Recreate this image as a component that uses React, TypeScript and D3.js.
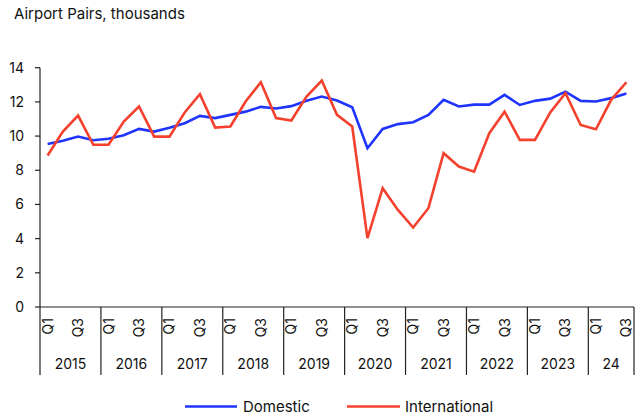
import React from "react";
import * as d3 from "d3";

const years = ["2015", "2016", "2017", "2018", "2019", "2020", "2021", "2022", "2023", "24"];
const quartersPerYear = [4, 4, 4, 4, 4, 4, 4, 4, 4, 3];
const yTicks = [0, 2, 4, 6, 8, 10, 12, 14];

const domestic = [
  9.54, 9.72, 9.97, 9.76, 9.84, 10.05, 10.42, 10.26, 10.48, 10.75, 11.18, 11.05,
  11.24, 11.43, 11.71, 11.61, 11.75, 12.06, 12.31, 12.08, 11.69, 9.29, 10.42, 10.7,
  10.81, 11.24, 12.12, 11.73, 11.84, 11.84, 12.41, 11.82, 12.06, 12.19, 12.6, 12.06,
  12.02, 12.22, 12.49,
];
const international = [
  8.86, 10.26, 11.2, 9.49, 9.49, 10.85, 11.73, 9.97, 9.97, 11.38, 12.45, 10.5,
  10.56, 12.02, 13.15, 11.05, 10.91, 12.31, 13.25, 11.24, 10.56, 4.03, 6.95, 5.68,
  4.65, 5.78, 9.0, 8.22, 7.92, 10.17, 11.43, 9.78, 9.78, 11.38, 12.51, 10.65,
  10.4, 12.12, 13.15,
];

const series = [
  { name: "Domestic", values: domestic, color: "#1f35ff" },
  { name: "International", values: international, color: "#f4412e" },
];

export default function App() {
  const W = 642, H = 419;
  const left = 40, right = 634, top = 67.7, bottom = 307;
  const font = "Inter, 'Liberation Sans', Arial, sans-serif";

  const quarters: { key: string; year: number; q: number }[] = [];
  years.forEach((y, yi) => {
    for (let q = 1; q <= quartersPerYear[yi]; q++) quarters.push({ key: `${y}Q${q}`, year: yi, q });
  });

  const x = d3.scaleBand<string>().domain(quarters.map((d) => d.key)).range([left, right]).paddingInner(0).paddingOuter(0);
  const y = d3.scaleLinear().domain([0, 14]).range([bottom, top]);
  const cx = (k: string) => (x(k) as number) + x.bandwidth() / 2;

  const line = d3.line<number>().x((_, i) => cx(quarters[i].key)).y((v) => y(v));

  const boundaries: number[] = [left];
  let idx = 0;
  quartersPerYear.forEach((n) => {
    idx += n;
    const k = quarters[idx - 1].key;
    boundaries.push((x(k) as number) + x.bandwidth());
  });

  const axisColor = "#222";

  return (
    <svg width={W} height={H} style={{ position: "absolute", left: 0, top: 0, background: "#fff" }} fontFamily={font}>
      <text x={14} y={19} fontSize={15} fill="#111">Airport Pairs, thousands</text>

      <line x1={left} x2={left} y1={top} y2={bottom} stroke={axisColor} strokeWidth={1.2} />
      {yTicks.map((t) => (
        <g key={t}>
          <line x1={left - 5} x2={left} y1={y(t)} y2={y(t)} stroke={axisColor} strokeWidth={1.2} />
          <text x={left - 16} y={y(t)} dy="0.36em" textAnchor="end" fontSize={14} fill="#111">{t}</text>
        </g>
      ))}

      <line x1={left} x2={right} y1={bottom} y2={bottom} stroke={axisColor} strokeWidth={1.2} />
      {boundaries.map((b, i) => (
        <line key={i} x1={b} x2={b} y1={bottom} y2={375} stroke={axisColor} strokeWidth={1.2} />
      ))}
      {quarters.filter((d) => d.q === 1 || d.q === 3).map((d) => (
        <text key={d.key} transform={`translate(${cx(d.key) + 5},${318}) rotate(-90)`} textAnchor="end" fontSize={14} fill="#111">{`Q${d.q}`}</text>
      ))}
      {years.map((yr, i) => (
        <text key={yr} x={(boundaries[i] + boundaries[i + 1]) / 2} y={369} textAnchor="middle" fontSize={14} fill="#111">{yr}</text>
      ))}

      {series.map((sr) => (
        <path key={sr.name} d={line(sr.values) || ""} fill="none" stroke={sr.color} strokeWidth={2.6} strokeLinejoin="miter" />
      ))}

      <line x1={185} x2={237} y1={406.5} y2={406.5} stroke={series[0].color} strokeWidth={2.6} />
      <text x={243} y={412} fontSize={15} fill="#111">{series[0].name}</text>
      <line x1={347} x2={400} y1={406.5} y2={406.5} stroke={series[1].color} strokeWidth={2.6} />
      <text x={405} y={412} fontSize={15} fill="#111">{series[1].name}</text>
    </svg>
  );
}
